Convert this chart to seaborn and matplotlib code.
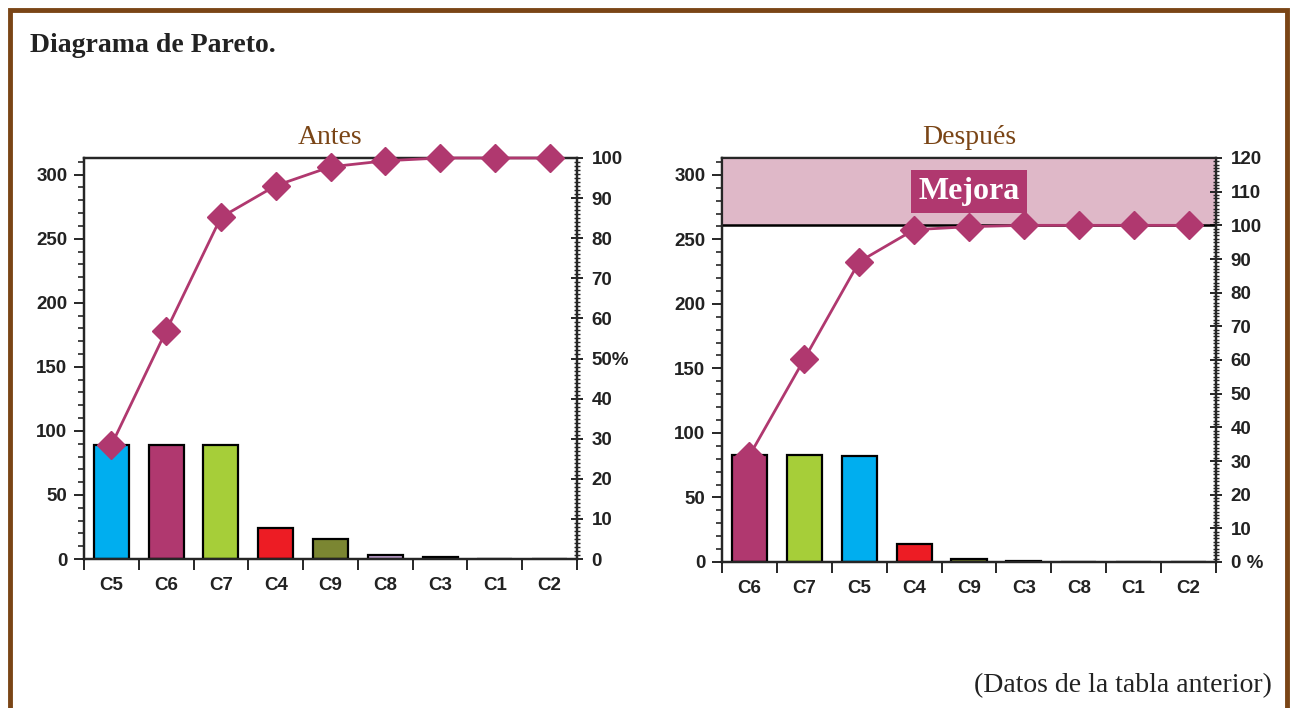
import matplotlib
matplotlib.use('Agg')
import matplotlib.pyplot as plt
import matplotlib.patches as mpatches
from matplotlib.ticker import MultipleLocator, FixedLocator
import numpy as np
import seaborn as sns

# datos
antes_cats = ["C5", "C6", "C7", "C4", "C9", "C8", "C3", "C1", "C2"]
antes_vals = [89, 89, 89, 24, 16, 3, 1.5, 0, 0]
antes_pct = [28.4, 56.9, 85.2, 93.1, 97.8, 99.3, 100, 100, 100]

despues_cats = ["C6", "C7", "C5", "C4", "C9", "C3", "C8", "C1", "C2"]
despues_vals = [83, 83, 82, 14, 2, 1, 0, 0, 0]
despues_pct = [31.6, 60.3, 89.2, 98.7, 99.6, 100, 100, 100, 100]

colores = {"C5": "#00aeef", "C6": "#b0386f", "C7": "#a6ce39", "C4": "#ed1c24",
           "C9": "#7b8632", "C8": "#c3a3d3", "C3": "#2a2a2a", "C1": "#888888", "C2": "#888888"}

LINEA = "#b0386f"
MARRON = "#7a4516"
SERIF = ["Liberation Serif", "DejaVu Serif"]
tick_font = dict(family=["Liberation Sans Narrow", "Liberation Sans", "DejaVu Sans"],
                 weight="bold", size=13.5)

sns.set_style("white")
plt.rcParams['font.family'] = ["Liberation Sans Narrow", "Liberation Sans", "DejaVu Sans"]

fig = plt.figure(figsize=(12.95, 7.08), dpi=100)

# marco marrón
fig.patches.append(mpatches.Rectangle((10 / 1295, -0.05), 1277 / 1295, 1.05 - 10 / 708,
                                      transform=fig.transFigure, fill=False,
                                      edgecolor=MARRON, linewidth=3.5))

fig.text(30 / 1295, 1 - 45 / 708, "Diagrama de Pareto.", family=SERIF,
         weight="bold", size=20, va="center", ha="left", color="#222222")
fig.text(1272 / 1295, 1 - 686 / 708, "(Datos de la tabla anterior)",
         family=SERIF, size=20, va="center", ha="right", color="#222222")


def pareto(rect, cats, vals, pct, titulo, pct_max, pct_labels):
    ax = fig.add_axes(rect)
    n = len(cats)
    sns.barplot(x=cats, y=vals, hue=cats, palette=[colores[c] for c in cats],
                saturation=1, edgecolor="black", linewidth=1.6, width=0.64,
                legend=False, ax=ax)
    ax.set_xlim(-0.5, n - 0.5)
    ax.set_ylim(0, 313)
    for s in ax.spines.values():
        s.set_linewidth(1.6)
        s.set_color("black")
    ax.yaxis.set_major_locator(MultipleLocator(50))
    ax.yaxis.set_minor_locator(MultipleLocator(10))
    ax.tick_params(axis="y", which="major", direction="out", length=7, width=1.4, left=True, pad=5)
    ax.tick_params(axis="y", which="minor", direction="out", length=4, width=1.2, left=True)
    ax.set_xticks(range(n))
    ax.set_xticklabels(cats)
    ax.xaxis.set_minor_locator(FixedLocator(np.arange(-0.5, n, 1.0)))
    ax.tick_params(axis="x", which="major", length=0, pad=13)
    ax.tick_params(axis="x", which="minor", direction="out", length=8, width=1.4, bottom=True)
    for lab in ax.get_xticklabels() + ax.get_yticklabels():
        lab.set_fontproperties(tick_font)
        lab.set_color("#222222")
    ax.set_xlabel("")
    ax.set_ylabel("")

    ax2 = ax.twinx()
    ax2.set_ylim(0, pct_max)
    if pct_max > 100:
        ax2.axhspan(100, pct_max, color="#dfb8c8", zorder=0)
        ax2.axhline(100, color="black", linewidth=1.8, zorder=1)
        ax2.text(4, 110, "Mejora", ha="center", va="center", color="white",
                 family=SERIF, weight="bold", size=23,
                 bbox=dict(boxstyle="square,pad=0.22", facecolor=LINEA, edgecolor="none"),
                 zorder=3)
    ax2.plot(range(n), pct, color=LINEA, linewidth=2, marker="D", markersize=14,
             markeredgecolor=LINEA, zorder=4, clip_on=False)
    ax2.yaxis.set_minor_locator(MultipleLocator(1))
    ax2.set_yticks(np.arange(0, pct_max + 1, 10))
    ax2.set_yticklabels(pct_labels)
    ax2.tick_params(axis="y", which="major", direction="inout", length=9, width=1.4, right=True, pad=6)
    ax2.tick_params(axis="y", which="minor", direction="inout", length=5, width=1.0, right=True)
    for lab in ax2.get_yticklabels():
        lab.set_fontproperties(tick_font)
        lab.set_color("#222222")
    for s in ax2.spines.values():
        s.set_linewidth(1.6)
    ax.set_title(titulo, family=SERIF, size=20, color=MARRON, pad=10)
    return ax, ax2


lbl_a = [str(v) for v in range(0, 101, 10)]
lbl_a[5] = "50%"
pareto([84 / 1295, 1 - 559 / 708, 493 / 1295, 401 / 708], antes_cats, antes_vals, antes_pct,
       "Antes", 100, lbl_a)

lbl_d = [str(v) for v in range(0, 121, 10)]
lbl_d[0] = "0 %"
pareto([722 / 1295, 1 - 562 / 708, 494 / 1295, 404 / 708], despues_cats, despues_vals, despues_pct,
       "Después", 120, lbl_d)

fig.savefig("out.png", dpi=100)
